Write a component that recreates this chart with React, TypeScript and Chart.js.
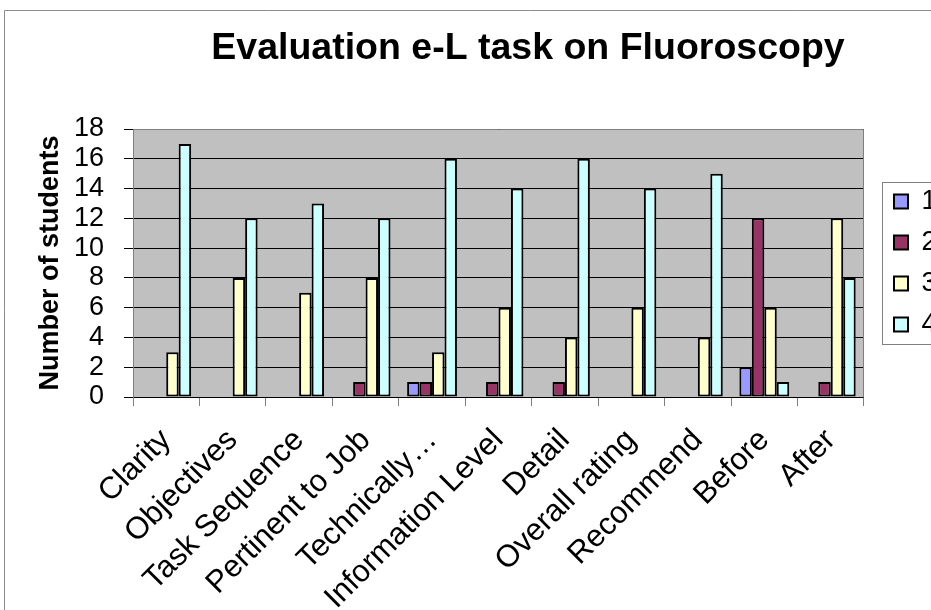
import React, { useEffect, useRef } from 'react';
import { Chart, registerables } from 'chart.js';

Chart.register(...registerables);

const chartTitle = 'Evaluation e-L task on Fluoroscopy';
const yAxisTitle = 'Number of students';
const categories = [
  'Clarity',
  'Objectives',
  'Task Sequence',
  'Pertinent to Job',
  'Technically…',
  'Information Level',
  'Detail',
  'Overall rating',
  'Recommend',
  'Before',
  'After',
];
const seriesNames = ['1', '2', '3', '4'];
const series1 = [0, 0, 0, 0, 1, 0, 0, 0, 0, 2, 0];
const series2 = [0, 0, 0, 1, 1, 1, 1, 0, 0, 12, 1];
const series3 = [3, 8, 7, 8, 3, 6, 4, 6, 4, 6, 12];
const series4 = [17, 12, 13, 12, 16, 14, 16, 14, 15, 1, 8];
const seriesColors = ['#9999FF', '#993366', '#FFFFCC', '#CCFFFF'];
const yMin = 0;
const yMax = 18;
const yStep = 2;

const FONT = '"Liberation Sans", Arial, Helvetica, sans-serif';

const decorPlugin = {
  id: 'decor',
  beforeDraw(chart: any) {
    const { ctx, chartArea: a } = chart;
    ctx.save();
    ctx.fillStyle = '#C0C0C0';
    ctx.fillRect(a.left, a.top, a.right - a.left, a.bottom - a.top);
    ctx.restore();
  },
  afterDraw(chart: any) {
    const { ctx, chartArea: a, legend } = chart;
    const al = (p: number) => Math.round(p - 0.5) + 0.5;
    ctx.save();
    ctx.lineWidth = 1;
    ctx.strokeStyle = '#808080';
    ctx.beginPath();
    ctx.moveTo(al(a.left), al(a.bottom));
    ctx.lineTo(al(a.left), al(a.top));
    ctx.lineTo(al(a.right), al(a.top));
    ctx.lineTo(al(a.right), al(a.bottom));
    ctx.stroke();
    // outer chart frame
    ctx.strokeStyle = '#8c8c8c';
    ctx.beginPath();
    ctx.moveTo(4.5, chart.height);
    ctx.lineTo(4.5, 10.5);
    ctx.lineTo(chart.width, 10.5);
    ctx.stroke();
    // legend frame
    if (legend) {
      const yc = (legend.top + legend.bottom) / 2;
      ctx.strokeStyle = '#808080';
      ctx.strokeRect(al(legend.left + 3), al(yc - 81), 200, 162);
    }
    ctx.restore();
  },
};

export default function App() {
  const ref = useRef<HTMLCanvasElement>(null);
  useEffect(() => {
    const all = [series1, series2, series3, series4];
    const chart = new Chart(ref.current as HTMLCanvasElement, {
      type: 'bar',
      data: {
        labels: categories,
        datasets: all.map((d, i) => ({
          label: seriesNames[i],
          data: d,
          backgroundColor: seriesColors[i],
          borderColor: '#000000',
          borderWidth: 2,
          borderSkipped: false,
          barPercentage: 1,
          categoryPercentage: 0.75,
        })),
      },
      options: {
        responsive: false,
        animation: false,
        events: [],
        layout: { padding: 0 },
        plugins: {
          tooltip: { enabled: false },
          title: {
            display: true,
            text: chartTitle,
            color: '#000',
            font: { family: FONT, size: 37.5, weight: 'bold' },
            padding: { top: 26.1, bottom: 57.9 },
          },
          legend: {
            display: true,
            position: 'right',
            fullSize: false,
            align: 'center',
            labels: {
              color: '#000',
              font: { family: FONT, size: 27 },
              boxWidth: 14,
              boxHeight: 14,
              padding: 14,
            },
          },
        },
        scales: {
          x: {
            position: 'bottom',
            offset: true,
            grid: {
              display: true,
              offset: true,
              drawOnChartArea: false,
              drawTicks: true,
              tickLength: 9,
              color: '#808080',
            },
            border: { display: true, color: '#000', width: 1 },
            ticks: {
              color: '#000',
              font: { family: FONT, size: 31 },
              minRotation: 45,
              maxRotation: 45,
              autoSkip: false,
              padding: 16,
            },
            afterFit: (s: any) => {
              s.height = 213;
            },
          },
          y: {
            position: 'left',
            min: yMin,
            max: yMax,
            grid: {
              color: '#000',
              lineWidth: 1,
              drawTicks: true,
              tickLength: 9,
            },
            border: { display: true, color: '#808080' },
            ticks: {
              stepSize: yStep,
              autoSkip: false,
              color: '#000',
              font: { family: FONT, size: 27 },
              padding: 20,
            },
            title: {
              display: true,
              text: yAxisTitle,
              color: '#000',
              font: { family: FONT, size: 27, weight: 'bold' },
              padding: { top: 34, bottom: 6 },
            },
            afterFit: (s: any) => {
              s.width = 133;
            },
          },
          spacerInner: {
            type: 'linear',
            position: 'right',
            weight: 0,
            display: true,
            grid: { display: false },
            border: { display: false },
            ticks: { display: false },
            afterFit: (s: any) => {
              s.width = 16;
            },
          },
          spacerOuter: {
            type: 'linear',
            position: 'right',
            weight: 2000,
            display: true,
            grid: { display: false },
            border: { display: false },
            ticks: { display: false },
            afterFit: (s: any) => {
              s.width = 109.5;
            },
          },
        },
      },
      plugins: [decorPlugin],
    } as any);
    return () => chart.destroy();
  }, []);

  return (
    <div
      style={{
        position: 'fixed',
        left: 0,
        top: 0,
        width: 931,
        height: 610,
        overflow: 'hidden',
        background: '#ffffff',
      }}
    >
      <canvas ref={ref} width={1056} height={610} style={{ display: 'block', width: 1056, height: 610 }} />
    </div>
  );
}
